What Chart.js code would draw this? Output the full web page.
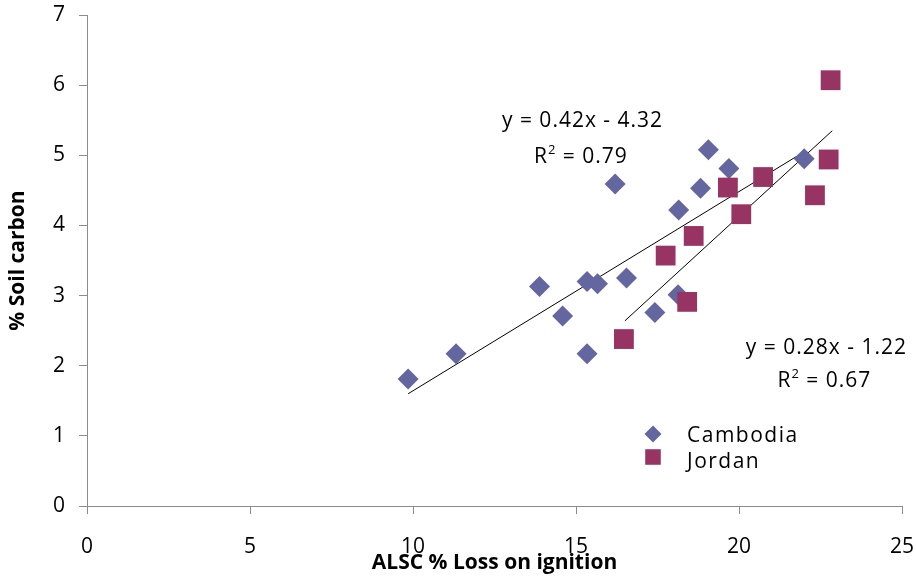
<!DOCTYPE html>
<html>
<head>
<meta charset="utf-8">
<script src="https://cdn.jsdelivr.net/npm/chart.js@4"></script>
<style>
  html, body { margin: 0; padding: 0; background: #fff; }
  #chart { display: block; }
</style>
</head>
<body>
<canvas id="chart" width="916" height="582"></canvas>
<script>
// Values
const cambodiaX = [9.85, 11.32, 13.88, 14.59, 15.34, 15.34, 15.66, 16.20, 16.55, 17.42, 18.13, 18.15, 18.82, 19.06, 19.69, 22.0];
const cambodiaY = [1.81, 2.17, 3.13, 2.71, 2.17, 3.20, 3.17, 4.59, 3.25, 2.76, 3.01, 4.22, 4.53, 5.08, 4.81, 4.95];
const jordanX = [16.47, 17.75, 18.41, 18.61, 19.66, 20.07, 20.74, 22.33, 22.75, 22.81];
const jordanY = [2.38, 3.57, 2.91, 3.85, 4.54, 4.16, 4.69, 4.43, 4.94, 6.07];

// trendline end points
const trendCambodiaX = [9.85, 22.0];
const trendCambodiaY = [1.60, 5.05];
const trendJordanX = [16.50, 22.86];
const trendJordanY = [2.64, 5.35];

const xTicks = [0, 5, 10, 15, 20, 25];
const yTicks = [0, 1, 2, 3, 4, 5, 6, 7];

const seriesNames = ['Cambodia', 'Jordan'];
const seriesColors = ['#6466A0', '#983463'];

// equation labels, placed in data units
const equations = [
  { eq: 'y = 0.42x - 4.32', r2: '0.79', ex: 15.2, ey: 5.41, rx: 15.15, ry: 4.89 },
  { eq: 'y = 0.28x - 1.22', r2: '0.67', ex: 22.68, ey: 2.17, rx: 22.62, ry: 1.69 }
];

const toPoints = (xs, ys) => xs.map((x, i) => ({ x, y: ys[i] }));

const FONT = "'Open Sans', 'Noto Sans', sans-serif";
const axisGray = '#8c8c8c';

// draws equation text and the little legend
const overlayPlugin = {
  id: 'overlay',
  afterDatasetsDraw(chart) {
    const ctx = chart.ctx;
    const xs = chart.scales.x, ys = chart.scales.y;
    ctx.save();
    ctx.fillStyle = '#000';
    ctx.textBaseline = 'alphabetic';
    ctx.letterSpacing = '1px';

    equations.forEach(e => {
      ctx.font = `21px ${FONT}`;
      ctx.textAlign = 'center';
      ctx.fillText(e.eq, xs.getPixelForValue(e.ex), ys.getPixelForValue(e.ey));

      // R² = ...
      ctx.textAlign = 'left';
      const rest = ' = ' + e.r2;
      ctx.font = `21px ${FONT}`;
      const wR = ctx.measureText('R').width;
      const wRest = ctx.measureText(rest).width;
      ctx.font = `13px ${FONT}`;
      const wSup = ctx.measureText('2').width;
      let x = xs.getPixelForValue(e.rx) - (wR + wSup + wRest) / 2;
      const y = ys.getPixelForValue(e.ry);
      ctx.font = `21px ${FONT}`;
      ctx.fillText('R', x, y);
      x += wR;
      ctx.font = `13px ${FONT}`;
      ctx.fillText('2', x, y - 9);
      x += wSup;
      ctx.font = `21px ${FONT}`;
      ctx.fillText(rest, x, y);
    });

    // legend
    const legendItems = [
      { style: 'rectRot', radius: 8.5, y: 434, textY: 442 },
      { style: 'rect', radius: 11, y: 457, textY: 468 }
    ];
    legendItems.forEach((item, i) => {
      ctx.fillStyle = seriesColors[i];
      Chart.helpers.drawPoint(ctx, { pointStyle: item.style, radius: item.radius, borderWidth: 0 }, 653, item.y);
      ctx.fillStyle = '#000';
      ctx.font = `21px ${FONT}`;
      ctx.letterSpacing = '1.5px';
      ctx.textAlign = 'left';
      ctx.fillText(seriesNames[i], 687, item.textY);
    });
    ctx.restore();
  }
};

new Chart(document.getElementById('chart'), {
  type: 'scatter',
  data: {
    datasets: [
      {
        label: 'Cambodia trend',
        data: toPoints(trendCambodiaX, trendCambodiaY),
        showLine: true,
        borderColor: '#000',
        borderWidth: 1,
        pointRadius: 0,
        order: 3
      },
      {
        label: 'Jordan trend',
        data: toPoints(trendJordanX, trendJordanY),
        showLine: true,
        borderColor: '#000',
        borderWidth: 1,
        pointRadius: 0,
        order: 3
      },
      {
        label: seriesNames[0],
        data: toPoints(cambodiaX, cambodiaY),
        pointStyle: 'rectRot',
        pointRadius: 10.5,
        backgroundColor: seriesColors[0],
        borderWidth: 0,
        order: 2
      },
      {
        label: seriesNames[1],
        data: toPoints(jordanX, jordanY),
        pointStyle: 'rect',
        pointRadius: 14,
        backgroundColor: seriesColors[1],
        borderWidth: 0,
        order: 1
      }
    ]
  },
  options: {
    responsive: false,
    animation: false,
    devicePixelRatio: 1,
    layout: { padding: { top: 15, right: 8, left: 0, bottom: 0 } },
    plugins: {
      legend: { display: false },
      tooltip: { enabled: false }
    },
    scales: {
      x: {
        type: 'linear',
        min: 0,
        max: 25,
        afterBuildTicks: s => { s.ticks = xTicks.map(v => ({ value: v })); },
        afterFit: s => { s.height = 76; s.paddingLeft = 0; s.paddingRight = 0; },
        grid: { drawOnChartArea: false, color: axisGray, tickLength: 8 },
        border: { color: axisGray, width: 1 },
        ticks: { color: '#000', padding: 20, maxRotation: 0, font: { family: FONT, size: 21 } },
        title: {
          display: true,
          text: 'ALSC % Loss on ignition',
          color: '#000',
          font: { family: FONT, size: 21, weight: 'bold' },
          padding: { top: 0, bottom: 6 }
        }
      },
      y: {
        type: 'linear',
        min: 0,
        max: 7,
        afterBuildTicks: s => { s.ticks = yTicks.map(v => ({ value: v })); },
        afterFit: s => { s.width = 87; s.paddingTop = 0; s.paddingBottom = 0; },
        grid: { drawOnChartArea: false, color: axisGray, tickLength: 8 },
        border: { color: axisGray, width: 1 },
        ticks: { color: '#000', padding: 14, font: { family: FONT, size: 21 } },
        title: {
          display: true,
          text: '% Soil carbon',
          color: '#000',
          font: { family: FONT, size: 21, weight: 'bold' },
          padding: { top: 5, bottom: 0 }
        }
      }
    }
  },
  plugins: [overlayPlugin]
});
</script>
</body>
</html>
